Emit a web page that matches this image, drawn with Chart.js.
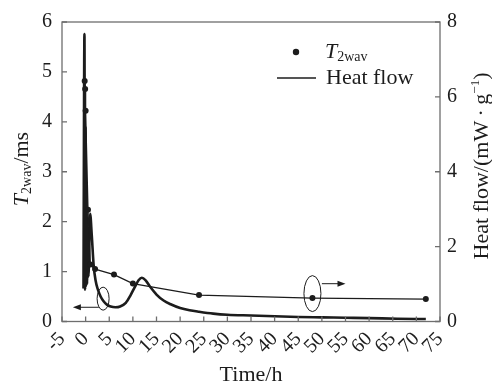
<!DOCTYPE html>
<html>
<head>
<meta charset="utf-8">
<script src="https://cdn.jsdelivr.net/npm/chart.js@4.4.1/dist/chart.umd.min.js"></script>
<style>
  html, body { margin: 0; padding: 0; background: #fff; }
  #wrap { width: 492px; height: 383px; }
</style>
</head>
<body>
<div id="wrap"><canvas id="chart" width="492" height="383"></canvas></div>
<script>
// T2wav (left axis, ms)
const t2Time = [-0.2, -0.1, 0, 0.5, 1, 2, 6, 10, 24, 48, 72];
const t2Values = [4.82, 4.66, 4.22, 2.24, 1.14, 1.05, 0.94, 0.76, 0.53, 0.47, 0.45];

// heat flow (right axis, mW/g)
const heatTime = [-0.45, -0.25, -0.12, -0.02, 0.08, 0.18, 0.3, 0.45, 0.6, 0.95, 1.3, 1.7, 2.1, 2.6, 3.2, 3.8, 4.5, 5.3, 6.3, 7.3, 8.5, 9.5, 10.4, 11.2, 11.9, 12.7, 13.7, 15, 16.5, 18, 20, 22, 24, 27, 30, 35, 40, 45, 50, 55, 60, 66, 72];
const heatValues = [0.88, 7.68, 0.85, 5.2, 0.95, 3.6, 1.0, 2.5, 1.2, 2.88, 2.3, 1.5, 1.1, 0.85, 0.66, 0.54, 0.45, 0.4, 0.38, 0.4, 0.5, 0.7, 0.92, 1.1, 1.17, 1.1, 0.92, 0.72, 0.56, 0.46, 0.36, 0.3, 0.26, 0.21, 0.18, 0.16, 0.14, 0.12, 0.11, 0.1, 0.09, 0.075, 0.065];

const xTicks = [-5, 0, 5, 10, 15, 20, 25, 30, 35, 40, 45, 50, 55, 60, 65, 70, 75];
const leftTicks = [0, 1, 2, 3, 4, 5, 6];
const rightTicks = [0, 2, 4, 6, 8];

const SERIF = '"Liberation Serif", "DejaVu Serif", serif';
const INK = "#1c1c1c";
const FRAME = "#6e6e6e";

function drawRich(ctx, segs, x, y, angle, align) {
  ctx.save();
  ctx.translate(x, y);
  ctx.rotate(angle);
  let total = 0;
  for (const s of segs) {
    ctx.font = s.font;
    s.w = ctx.measureText(s.text).width;
    total += s.w;
  }
  let cx = align === "center" ? -total / 2 : 0;
  ctx.textAlign = "left";
  ctx.textBaseline = "alphabetic";
  ctx.fillStyle = INK;
  for (const s of segs) {
    ctx.font = s.font;
    ctx.fillText(s.text, cx, s.dy || 0);
    cx += s.w;
  }
  ctx.restore();
}

function arrow(ctx, x1, y1, x2, y2) {
  const a = Math.atan2(y2 - y1, x2 - x1);
  ctx.beginPath();
  ctx.moveTo(x1, y1);
  ctx.lineTo(x2 - 6 * Math.cos(a), y2 - 6 * Math.sin(a));
  ctx.stroke();
  ctx.beginPath();
  ctx.moveTo(x2, y2);
  ctx.lineTo(x2 - 8 * Math.cos(a) + 3 * Math.sin(a), y2 - 8 * Math.sin(a) - 3 * Math.cos(a));
  ctx.lineTo(x2 - 8 * Math.cos(a) - 3 * Math.sin(a), y2 - 8 * Math.sin(a) + 3 * Math.cos(a));
  ctx.closePath();
  ctx.fill();
}

const decor = {
  id: "decor",
  afterDraw(chart) {
    const { ctx, chartArea: a, scales } = chart;
    const { x, y, y1 } = scales;
    ctx.save();

    // frame
    ctx.strokeStyle = FRAME;
    ctx.lineWidth = 1.3;
    ctx.strokeRect(a.left, a.top, a.right - a.left, a.bottom - a.top);

    // inward ticks
    ctx.beginPath();
    for (const v of xTicks) {
      const px = x.getPixelForValue(v);
      ctx.moveTo(px, a.bottom);
      ctx.lineTo(px, a.bottom - 5);
    }
    for (const v of leftTicks) {
      const py = y.getPixelForValue(v);
      ctx.moveTo(a.left, py);
      ctx.lineTo(a.left + 5, py);
    }
    for (const v of rightTicks) {
      const py = y1.getPixelForValue(v);
      ctx.moveTo(a.right, py);
      ctx.lineTo(a.right - 5, py);
    }
    ctx.stroke();

    // annotations: ellipses + arrows
    ctx.strokeStyle = INK;
    ctx.fillStyle = INK;
    ctx.lineWidth = 1;
    ctx.beginPath();
    ctx.ellipse(x.getPixelForValue(3.7), y1.getPixelForValue(0.61), 6, 11.5, 0, 0, Math.PI * 2);
    ctx.stroke();
    arrow(ctx, x.getPixelForValue(2.8), y1.getPixelForValue(0.38), x.getPixelForValue(-2.7), y1.getPixelForValue(0.38));
    ctx.beginPath();
    ctx.ellipse(x.getPixelForValue(48), y1.getPixelForValue(0.745), 8.5, 18, 0, 0, Math.PI * 2);
    ctx.stroke();
    arrow(ctx, x.getPixelForValue(50), y1.getPixelForValue(1.01), x.getPixelForValue(55), y1.getPixelForValue(1.01));

    // legend
    ctx.beginPath();
    ctx.arc(296, 52, 3.2, 0, Math.PI * 2);
    ctx.fill();
    drawRich(ctx, [
      { text: "T", font: "italic 22px " + SERIF },
      { text: "2wav", font: "14px " + SERIF, dy: 3 }
    ], 325, 58, 0, "left");
    ctx.lineWidth = 1.5;
    ctx.beginPath();
    ctx.moveTo(277, 78);
    ctx.lineTo(316, 78);
    ctx.stroke();
    drawRich(ctx, [{ text: "Heat flow", font: "22px " + SERIF }], 326, 84, 0, "left");

    // axis titles
    drawRich(ctx, [{ text: "Time/h", font: "22px " + SERIF }], 251, 381, 0, "center");
    drawRich(ctx, [
      { text: "T", font: "italic 22px " + SERIF },
      { text: "2wav", font: "14px " + SERIF, dy: 3 },
      { text: "/ms", font: "22px " + SERIF }
    ], 28, 169, -Math.PI / 2, "center");
    drawRich(ctx, [
      { text: "Heat flow/(mW\u2009\u00b7\u2009g", font: "22px " + SERIF },
      { text: "\u22121", font: "13px " + SERIF, dy: -9 },
      { text: ")", font: "22px " + SERIF }
    ], 488, 166, -Math.PI / 2, "center");

    ctx.restore();
  }
};

const tickFont = { family: SERIF, size: 20 };

new Chart(document.getElementById("chart"), {
  type: "line",
  data: {
    datasets: [
      {
        label: "T2wav",
        data: t2Time.map((t, i) => ({ x: t, y: t2Values[i] })),
        yAxisID: "y",
        borderColor: INK,
        backgroundColor: INK,
        borderWidth: 1.3,
        pointRadius: 3,
        pointBackgroundColor: INK,
        pointBorderWidth: 0,
        tension: 0
      },
      {
        label: "Heat flow",
        data: heatTime.map((t, i) => ({ x: t, y: heatValues[i] })),
        yAxisID: "y1",
        borderColor: INK,
        borderWidth: 2.6,
        pointRadius: 0,
        cubicInterpolationMode: "monotone"
      }
    ]
  },
  options: {
    responsive: false,
    animation: false,
    devicePixelRatio: 1,
    layout: { padding: { top: 18.5, left: 0, right: 0, bottom: 0 } },
    plugins: { legend: { display: false }, tooltip: { enabled: false } },
    scales: {
      x: {
        type: "linear",
        min: -5,
        max: 75,
        afterBuildTicks: s => { s.ticks = xTicks.map(v => ({ value: v })); },
        afterFit: s => { s.height = 61.5; },
        grid: { display: false, drawTicks: false },
        border: { display: false },
        ticks: { minRotation: 45, maxRotation: 45, autoSkip: false, font: tickFont, color: INK, padding: 6 }
      },
      y: {
        position: "left",
        min: 0,
        max: 6,
        afterBuildTicks: s => { s.ticks = leftTicks.map(v => ({ value: v })); },
        afterFit: s => { s.width = 62; },
        grid: { display: false, drawTicks: false },
        border: { display: false },
        ticks: { font: tickFont, color: INK, padding: 10 }
      },
      y1: {
        position: "right",
        min: 0,
        max: 8,
        afterBuildTicks: s => { s.ticks = rightTicks.map(v => ({ value: v })); },
        afterFit: s => { s.width = 52; },
        grid: { display: false, drawTicks: false },
        border: { display: false },
        ticks: { font: tickFont, color: INK, padding: 7 }
      }
    }
  },
  plugins: [decor]
});
</script>
</body>
</html>
